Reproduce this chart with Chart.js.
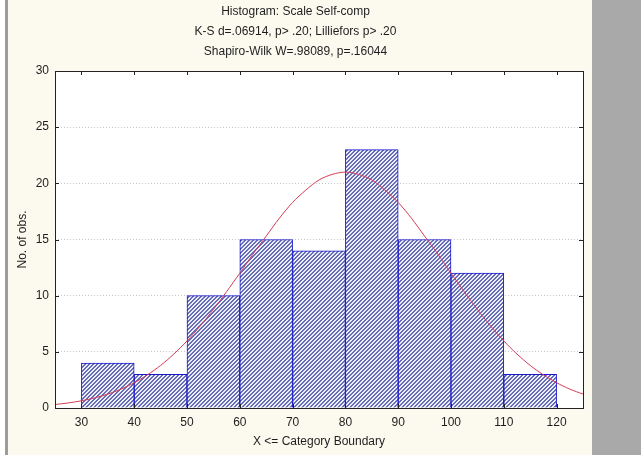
<!DOCTYPE html>
<html lang="en">
<head>
    <meta charset="UTF-8">
    <title>Histogram: Scale Self-comp</title>
    <script src="https://cdn.jsdelivr.net/npm/chart.js"></script>
    <style>
        body {
            margin: 0;
            background: #ffffff;
            width: 641px;
            height: 455px;
            overflow: hidden;
            position: relative;
        }
        #stripe {
            position: absolute;
            left: 5px;
            top: 0;
            width: 3px;
            height: 455px;
            background: #9c9c9c;
        }
        #side {
            position: absolute;
            left: 592px;
            top: 0;
            width: 49px;
            height: 455px;
            background: #a9a9a9;
        }
        #histChart {
            position: absolute;
            left: 8px;
            top: 0;
        }
    </style>
</head>
<body>
    <div id="stripe"></div>
    <canvas id="histChart" width="584" height="455"></canvas>
    <div id="side"></div>

    <script>
        // bin upper boundaries and counts
        const binEdges = [30, 40, 50, 60, 70, 80, 90, 100, 110, 120];
        const counts = [4, 3, 10, 15, 14, 23, 15, 12, 3];

        // expected normal curve, read at every 2.5 units
        const curveX = [25, 27.5, 30, 32.5, 35, 37.5, 40, 42.5, 45, 47.5, 50, 52.5, 55, 57.5, 60, 62.5,
            65, 67.5, 70, 72.5, 75, 77.5, 80, 82.5, 85, 87.5, 90, 92.5, 95, 97.5, 100, 102.5,
            105, 107.5, 110, 112.5, 115, 117.5, 120, 122.5, 125];
        const curveY = [0.31, 0.45, 0.64, 0.9, 1.24, 1.68, 2.25, 2.95, 3.79, 4.8, 5.97, 7.3, 8.77, 10.36, 12.0, 13.7,
            15.3, 16.9, 18.3, 19.4, 20.3, 20.8, 21.0, 20.8, 20.3, 19.4, 18.3, 16.9, 15.3, 13.7, 12.0, 10.36,
            8.77, 7.3, 5.97, 4.8, 3.79, 2.95, 2.25, 1.68, 1.24];

        const xTicks = [30, 40, 50, 60, 70, 80, 90, 100, 110, 120];
        const yTicks = [0, 5, 10, 15, 20, 25, 30];

        const titleLines = [
            'Histogram: Scale Self-comp',
            'K-S d=.06914, p> .20; Lilliefors p> .20',
            'Shapiro-Wilk W=.98089, p=.16044'
        ];

        const ctx = document.getElementById('histChart').getContext('2d');

        // diagonal "/" hatching, 4px tile with 2px stripes
        function makeHatch() {
            const c = document.createElement('canvas');
            c.width = 4;
            c.height = 4;
            const g = c.getContext('2d');
            for (let y = 0; y < 4; y++) {
                for (let x = 0; x < 4; x++) {
                    g.fillStyle = (x + y) % 4 < 2 ? '#666cb6' : '#eceef8';
                    g.fillRect(x, y, 1, 1);
                }
            }
            return ctx.createPattern(c, 'repeat');
        }

        const barData = counts.map((n, i) => ({ x: (binEdges[i] + binEdges[i + 1]) / 2, y: n }));
        const curveData = curveX.map((x, i) => ({ x: x, y: curveY[i] }));

        // cream page, white plot area, black frame and inward tick marks
        const framePlugin = {
            id: 'frame',
            beforeDraw(chart) {
                const { ctx, chartArea: a } = chart;
                ctx.save();
                ctx.fillStyle = '#fcf9ef';
                ctx.fillRect(0, 0, chart.width, chart.height);
                ctx.fillStyle = '#ffffff';
                ctx.fillRect(a.left, a.top, a.right - a.left, a.bottom - a.top);
                ctx.restore();
            },
            afterDatasetsDraw(chart) {
                const { ctx, chartArea: a, scales } = chart;
                ctx.save();
                ctx.strokeStyle = '#222222';
                ctx.lineWidth = 1;
                ctx.beginPath();
                scales.x.ticks.forEach(t => {
                    const px = Math.round(scales.x.getPixelForValue(t.value)) + 0.5;
                    ctx.moveTo(px, a.top); ctx.lineTo(px, a.top + 4);
                    ctx.moveTo(px, a.bottom); ctx.lineTo(px, a.bottom - 4);
                });
                scales.y.ticks.forEach(t => {
                    const py = Math.round(scales.y.getPixelForValue(t.value)) + 0.5;
                    ctx.moveTo(a.left, py); ctx.lineTo(a.left + 4, py);
                    ctx.moveTo(a.right, py); ctx.lineTo(a.right - 4, py);
                });
                ctx.stroke();
                ctx.strokeRect(Math.round(a.left) + 0.5, Math.round(a.top) + 0.5,
                    Math.round(a.right - a.left), Math.round(a.bottom - a.top));
                ctx.restore();
            }
        };

        new Chart(ctx, {
            type: 'bar',
            data: {
                datasets: [{
                    type: 'line',
                    label: 'Normal',
                    data: curveData,
                    borderColor: '#d63c58',
                    borderWidth: 1,
                    pointRadius: 0,
                    tension: 0.3,
                    fill: false,
                    order: 0
                }, {
                    label: 'No. of obs.',
                    data: barData,
                    backgroundColor: makeHatch(),
                    borderColor: '#1818cc',
                    borderWidth: 1,
                    barPercentage: 1,
                    categoryPercentage: 1,
                    order: 1
                }]
            },
            options: {
                responsive: false,
                animation: false,
                layout: {
                    padding: { left: 0, right: 9, top: 0, bottom: 0 }
                },
                plugins: {
                    legend: { display: false },
                    tooltip: { enabled: false },
                    title: {
                        display: true,
                        text: titleLines,
                        color: '#1e1e1e',
                        font: { family: 'Liberation Sans', size: 12, weight: 'normal', lineHeight: 1.667 },
                        padding: { top: 2, bottom: 9 }
                    }
                },
                scales: {
                    x: {
                        type: 'linear',
                        min: 25,
                        max: 125,
                        offset: false,
                        grid: { display: false, drawTicks: false },
                        border: { display: false },
                        afterBuildTicks: scale => {
                            scale.ticks = xTicks.map(v => ({ value: v }));
                        },
                        afterFit: scale => { scale.height = 47; },
                        ticks: {
                            padding: 7,
                            color: '#1e1e1e',
                            font: { family: 'Liberation Sans', size: 12 }
                        },
                        title: {
                            display: true,
                            text: 'X <= Category Boundary',
                            color: '#1e1e1e',
                            font: { family: 'Liberation Sans', size: 12 },
                            padding: { top: 0, bottom: 6 }
                        }
                    },
                    y: {
                        min: 0,
                        max: 30,
                        afterBuildTicks: scale => {
                            scale.ticks = yTicks.map(v => ({ value: v }));
                        },
                        afterFit: scale => { scale.width = 47; },
                        grid: {
                            color: '#c8c8c8',
                            drawTicks: false
                        },
                        border: { display: false, dash: [1, 2] },
                        ticks: {
                            padding: 6,
                            color: '#1e1e1e',
                            font: { family: 'Liberation Sans', size: 12 }
                        },
                        title: {
                            display: true,
                            text: 'No. of obs.',
                            color: '#1e1e1e',
                            font: { family: 'Liberation Sans', size: 12 },
                            padding: { top: 7, bottom: 0 }
                        }
                    }
                }
            },
            plugins: [framePlugin]
        });
    </script>
</body>
</html>
